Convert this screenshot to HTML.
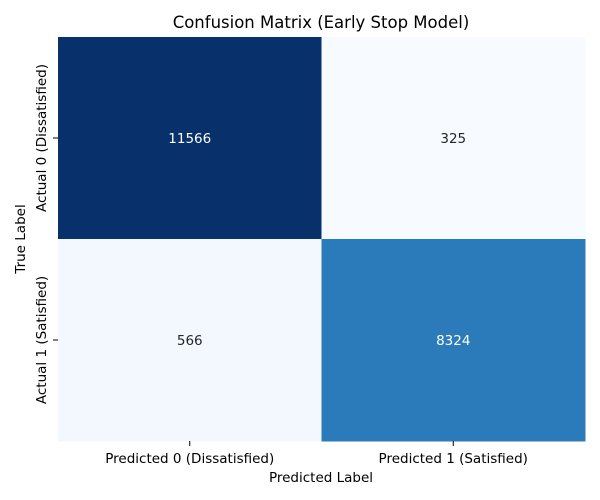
<!DOCTYPE html>
<html><head><meta charset="utf-8"><style>body{margin:0;background:#fff}svg{display:block;font-family:"DejaVu Sans","Liberation Sans",sans-serif}</style></head>
<body>
<svg id="c" width="600" height="500"></svg>
<script>
const xLabels=["Predicted 0 (Dissatisfied)","Predicted 1 (Satisfied)"];
const yLabels=["Actual 0 (Dissatisfied)","Actual 1 (Satisfied)"];
const row0=[11566,325];
const row1=[566,8324];
const values=[row0,row1];
const svg=document.getElementById('c');const NS="http://www.w3.org/2000/svg";
const L=58,T=37,R=585,B=441;
const cw=(R-L)/xLabels.length,ch=(B-T)/yLabels.length;
const stops=[[247,251,255],[222,235,247],[198,219,239],[158,202,225],[107,174,214],[66,146,198],[33,113,181],[8,81,156],[8,48,107]];
function blues(t){t=Math.max(0,Math.min(1,t))*(stops.length-1);const i=Math.min(Math.floor(t),stops.length-2),f=t-i;const a=stops[i],b=stops[i+1];return `rgb(${a.map((v,k)=>Math.round(v+(b[k]-v)*f)).join(',')})`;}
const all=values.flat(),mn=Math.min(...all),mx=Math.max(...all);
function el(n,a,txt){const e=document.createElementNS(NS,n);for(const k in a)e.setAttribute(k,a[k]);if(txt!=null)e.textContent=txt;svg.appendChild(e);return e;}
values.forEach((row,r)=>row.forEach((v,c)=>{const t=(v-mn)/(mx-mn);
const rc=el('rect',{x:L+c*cw,y:T+r*ch,width:cw+0.5,height:ch+0.5,fill:blues(t)});


const tx=el('text',{x:L+c*cw+cw/2,y:T+r*ch+ch/2+5,'text-anchor':'middle','font-size':'13.5',fill:t>0.5?'#fff':'#262626'},v);


}));
xLabels.forEach((s,i)=>{const x=L+i*cw+cw/2;el('line',{x1:x,x2:x,y1:B,y2:B+5,stroke:'#000','stroke-width':1});
const t=el('text',{x:x,y:B+22,'text-anchor':'middle','font-size':'13.5',fill:'#000'},s);

});
yLabels.forEach((s,i)=>{const y=T+i*ch+ch/2;el('line',{x1:L-5,x2:L,y1:y,y2:y,stroke:'#000','stroke-width':1});
const t=el('text',{x:0,y:0,transform:`translate(${L-12},${y}) rotate(-90)`,'text-anchor':'middle','font-size':'13.5',fill:'#000'},s);

});
</script>
<script>
(function(){const svg=document.getElementById('c');const NS="http://www.w3.org/2000/svg";
function add(a,txt,name){const e=document.createElementNS(NS,'text');for(const k in a)e.setAttribute(k,a[k]);e.textContent=txt;svg.appendChild(e);

}
add({x:321,y:28,'text-anchor':'middle','font-size':'16.5'},'Confusion Matrix (Early Stop Model)','chart-title');
add({x:321,y:482,'text-anchor':'middle','font-size':'13.5'},'Predicted Label','x-axis-title');
add({x:0,y:0,transform:'translate(25,239) rotate(-90)','text-anchor':'middle','font-size':'13.5'},'True Label','y-axis-title');
})();
</script>
</body></html>
